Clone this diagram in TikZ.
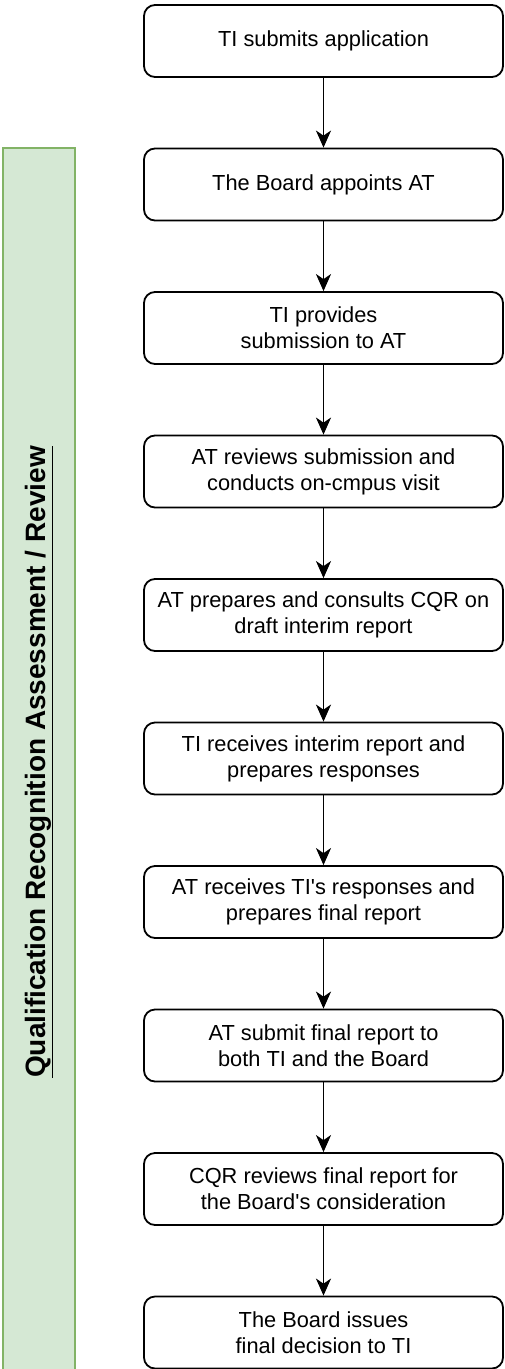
\documentclass[tikz,border=0pt]{standalone}
\usepackage{fontspec}
\setmainfont{Liberation Sans}
\usepackage{xcolor}
\usetikzlibrary{arrows.meta}
\definecolor{barfill}{HTML}{D5E8D4}
\definecolor{barline}{HTML}{82B366}

\begin{document}
\begin{tikzpicture}[x=1pt,y=-1pt,
    stepbox/.style={draw,line width=1.8pt,rounded corners=11pt,minimum width=359pt,minimum height=72pt,inner sep=0pt,align=center,font=\fontsize{21.8}{26}\selectfont},
    flow/.style={line width=1.8pt,-{Stealth[length=17pt,width=15pt,inset=5pt]}}]
            \useasboundingbox (0,0) rectangle (504,1369);

            %%% SIDE BAR %%%
            \draw[barline,fill=barfill,line width=1.8pt] (3,148) rectangle (75,1380);
            \node[rotate=90,font=\fontsize{28}{33}\selectfont\bfseries] (title) at (39,762) {\underline{Qualification Recognition Assessment / Review}};

            %%% STEPS %%%
            \node[stepbox] (b1) at (323.5,41) {TI submits application};
            \node[stepbox] (b2) at (323.5,184.5) {The Board appoints AT};
            \node[stepbox] (b3) at (323.5,328) {TI provides\\ submission to AT};
            \node[stepbox] (b4) at (323.5,471.5) {AT reviews submission and\\conducts on-cmpus visit};
            \node[stepbox] (b5) at (323.5,615) {AT prepares and consults CQR on\\draft interim report};
            \node[stepbox] (b6) at (323.5,758.5) {TI receives interim report and\\prepares responses};
            \node[stepbox] (b7) at (323.5,902) {AT receives TI\textquotesingle s responses and\\prepares final report};
            \node[stepbox] (b8) at (323.5,1045.5) {AT submit final report to\\both TI and the Board};
            \node[stepbox] (b9) at (323.5,1189) {CQR reviews final report for\\the Board\textquotesingle s consideration};
            \node[stepbox] (b10) at (323.5,1332.5) {The Board issues\\final decision to TI};

            %%% ARROWS %%%
            \draw[flow] (b1) -- (b2);
            \draw[flow] (b2) -- (b3);
            \draw[flow] (b3) -- (b4);
            \draw[flow] (b4) -- (b5);
            \draw[flow] (b5) -- (b6);
            \draw[flow] (b6) -- (b7);
            \draw[flow] (b7) -- (b8);
            \draw[flow] (b8) -- (b9);
            \draw[flow] (b9) -- (b10);
        \end{tikzpicture}
\end{document}
